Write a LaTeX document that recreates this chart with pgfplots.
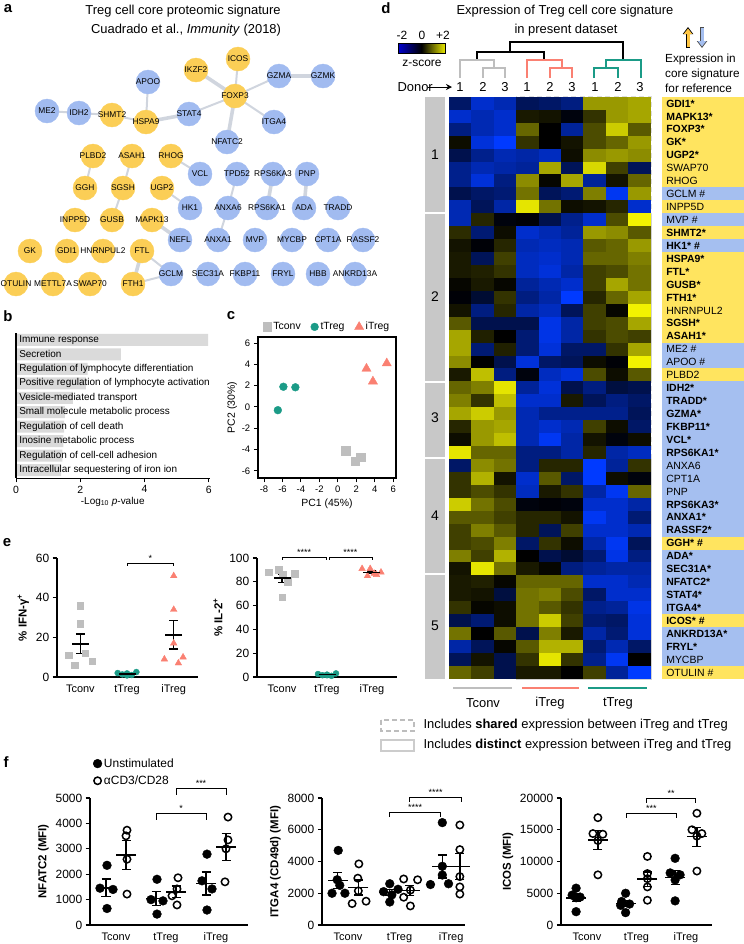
\documentclass[border=0pt]{standalone}
\usepackage{pgfplots}
\pgfplotsset{compat=1.18}
\usepackage{pgfplotstable}
\usepackage{fontspec}
\setmainfont{Liberation Sans}
\setsansfont{Liberation Sans}
\usetikzlibrary{arrows.meta}

\newcommand\fs[1]{\fontsize{#1}{#1}\selectfont}

\definecolor{nodeY}{RGB}{251,206,86}
\definecolor{nodeB}{RGB}{161,187,240}
\definecolor{labY}{RGB}{255,228,95}
\definecolor{labB}{RGB}{165,191,240}
\definecolor{edgeC}{RGB}{208,213,222}
\definecolor{tconvC}{RGB}{190,190,190}
\definecolor{ttregC}{RGB}{27,155,135}
\definecolor{itregC}{RGB}{250,128,114}
\definecolor{barC}{RGB}{218,218,218}
\definecolor{clusC}{RGB}{200,200,200}
\definecolor{dashC}{RGB}{222,222,222}

\pgfdeclareplotmark{cell}{\pgfpathrectangle{\pgfpoint{-11.4bp}{-6.6bp}}{\pgfpoint{22.8bp}{13.2bp}}\pgfusepathqfill}
\pgfdeclareplotmark{lbl}{\pgfpathrectangle{\pgfpoint{-41bp}{-6.6bp}}{\pgfpoint{82bp}{13.2bp}}\pgfusepathqfill}

\pgfplotsset{
  every axis/.append style={/pgf/number format/assume math mode=true, /pgf/number format/1000 sep={}},
  dotaxis/.style={scale only axis, axis x line*=bottom, axis y line*=left,
    axis line style={line width=1.2bp}, tick style={line width=1.2bp, black},
    tick align=outside, major x tick style={draw=none}, xtick={1,2,3},
    xticklabels={Tconv,tTreg,iTreg}, clip=false, scaled y ticks=false,
    yticklabel style={font=\fs{12}}, xticklabel style={font=\fs{11}},
    ylabel style={font=\bfseries\fs{11.5}}},
  meanbar/.style={only marks, black, mark=-, mark size=#1, mark options={line width=1.5bp},
    error bars/y dir=both, error bars/y explicit,
    error bars/error bar style={line width=1.4bp, black},
    error bars/error mark options={rotate=90, mark size=4.5bp, line width=1.4bp, black}},
  brk/.style={black, line width=0.9bp, no markers},
  filled/.style={only marks, mark=*, black, mark size=4.4bp},
  open/.style={only marks, mark=o, black, mark size=3.7bp, mark options={line width=1.5bp, fill=white}},
}

% ---------- network nodes of the reference signature (pixel positions; y = up, b = down)
\pgfplotstableread{
name x y c
ME2 47 111 b
IDH2 79 113 b
SHMT2 112 115 y
HSPA9 146 122 y
APOO 148 82 b
STAT4 189 114 b
IKZF2 196 70 y
ICOS 238 59 y
FOXP3 235 96 y
NFATC2 227 142 b
GZMA 279 76 b
GZMK 323 76 b
ITGA4 274 122 b
PLBD2 93 156 y
ASAH1 132 156 y
RHOG 171 156 y
VCL 200 174 b
TPD52 237 174 b
RPS6KA3 273 174 b
PNP 307 174 b
GGH 85 188 y
SGSH 123 188 y
UGP2 162 188 y
HK1 190 208 b
ANXA6 228 208 b
RPS6KA1 267 208 b
ADA 304 208 b
TRADD 338 208 b
INPP5D 75 220 y
GUSB 112 220 y
MAPK13 152 220 y
NEFL 180 240 b
ANXA1 218 240 b
MVP 255 240 b
MYCBP 292 240 b
CPT1A 328 240 b
RASSF2 363 240 b
GK 30 251 y
GDI1 67 251 y
HNRNPUL2 103 251 y
FTL 142 251 y
GCLM 171 274 b
SEC31A 208 274 b
FKBP11 245 274 b
FRYL 283 274 b
HBB 318 274 b
ANKRD13A 355 274 b
OTULIN 16 284 y
METTL7A 53 284 y
SWAP70 90 284 y
FTH1 133 284 y
}\net

% ---------- heatmap z-scores (rows top to bottom; Tconv 1-3, iTreg 1-3, tTreg 1-3)
\pgfplotstableread{
r c1 c2 c3 c4 c5 c6 c7 c8 c9
1 -0.8 -1.6 -1.4 -0.7 -0.8 -1.0 1.2 1.2 1.3
2 -1.6 -1.4 -1.6 0.2 0.15 -0.1 0.4 1.2 1.3
3 -1.0 -1.4 -1.6 0.8 0.0 -1.2 0.6 1.6 0.7
4 0.1 -1.7 -2.0 0.4 0.0 0.15 0.6 0.8 1.2
5 -0.6 -1.1 -1.4 -1.3 -1.5 0.1 1.1 1.2 1.1
6 -1.1 -1.4 -1.3 -1.2 1.3 -0.7 1.7 0.5 -0.7
7 -1.1 -1.7 -1.0 1.1 0.05 1.3 -1.2 0.15 0.8
8 -0.6 -0.8 -0.9 0.9 -0.7 -0.9 1.0 -1.9 1.2
9 -1.4 -0.7 -1.3 1.8 0.9 0.1 0.15 0.3 -1.6
10 -1.4 0.3 -0.1 -0.05 -0.6 -1.1 -1.6 0.6 1.9
11 0.35 -0.9 0.1 -1.6 -1.4 -1.2 1.2 1.1 0.7
12 0.15 -0.05 0.3 -1.4 -1.5 -1.4 0.7 0.8 1.2
13 0.2 -0.7 0.5 -1.5 -1.6 -1.4 0.8 0.8 1.0
14 0.2 0.25 0.4 -1.5 -1.7 -1.3 0.5 0.6 0.9
15 0.05 0.2 0.05 -1.2 -1.4 -1.6 0.5 1.3 0.9
16 -0.05 -0.4 0.4 -1.0 -1.3 -2.0 0.3 0.8 1.3
17 0.15 -1.0 0.3 -1.3 -1.5 -0.7 0.5 0.05 1.9
18 0.7 -0.6 -0.6 -0.6 -1.8 -1.3 0.5 0.6 1.3
19 1.3 0.25 0.0 -0.9 -1.8 -1.3 0.4 0.6 0.5
20 1.3 -0.9 0.25 -0.9 -1.7 -0.8 -0.8 0.4 1.3
21 1.1 0.0 -0.6 -1.7 -0.8 -0.7 0.1 -0.05 1.9
22 0.2 1.5 -1.0 -0.1 -1.5 -1.7 0.6 0.1 0.7
23 0.8 1.0 1.8 -1.2 -1.7 -0.6 -1.0 -0.5 -0.6
24 1.0 0.4 1.5 -1.6 -1.6 0.2 -0.7 -1.0 -0.8
25 1.3 1.6 1.2 -1.4 -1.1 -1.1 -1.1 -1.1 -0.7
26 0.3 1.2 1.3 -1.4 -1.6 -1.4 0.5 0.1 -0.8
27 0.1 1.2 1.5 -1.4 -1.9 -1.3 0.15 -0.1 0.1
28 1.8 0.8 0.8 -1.0 -1.0 -1.3 0.3 -1.3 -1.5
29 -0.8 1.1 0.9 -1.0 0.3 0.3 -2.0 -1.2 0.4
30 0.4 1.4 0.15 -1.6 0.7 -0.8 -2.0 0.1 -0.1
31 0.4 0.6 0.4 -1.5 0.2 0.4 -1.3 -1.9 0.8
32 1.6 0.9 0.6 -0.1 -0.05 -0.1 -1.6 -1.6 -1.3
33 0.7 0.7 0.5 0.3 0.3 0.15 -1.9 -1.6 -0.9
34 0.5 1.0 0.7 0.3 -0.7 0.5 -1.6 -1.6 -1.4
35 0.5 0.6 1.0 -0.8 0.4 0.1 -1.3 -1.9 -0.7
36 1.0 0.5 1.4 0.0 -0.6 -0.4 -0.9 -1.8 -1.0
37 0.15 1.8 0.9 0.2 0.05 -1.0 -1.2 -1.3 -1.3
38 0.2 0.25 0.05 0.8 0.8 0.8 -1.6 -1.6 -1.4
39 0.2 0.15 -0.5 0.9 1.0 0.6 -0.8 -1.6 -1.6
40 0.4 0.05 0.1 0.9 0.7 0.4 -1.1 -1.2 -1.8
41 -0.6 -0.9 0.1 0.9 1.6 0.5 -0.9 -0.8 -1.7
42 0.9 0.0 0.7 -0.6 1.0 0.2 -1.3 -0.9 -1.7
43 -1.3 -0.7 0.05 0.7 1.4 1.4 -0.9 -1.4 -0.8
44 -0.7 0.15 -0.6 0.4 1.8 0.4 -1.1 -1.9 0.0
45 0.8 0.5 -0.6 0.2 0.2 0.0 0.5 -1.2 -2.0
}\heat

% ---------- reference signature labels (y = up, b = down)
\pgfplotstableread[col sep=comma]{
r,s,g
1,y,\textbf{GDI1*}
2,y,\textbf{MAPK13*}
3,y,\textbf{FOXP3*}
4,y,\textbf{GK*}
5,y,\textbf{UGP2*}
6,y,SWAP70
7,y,RHOG
8,b,GCLM \#
9,y,INPP5D
10,b,MVP \#
11,y,\textbf{SHMT2*}
12,b,\textbf{HK1* \#}
13,y,\textbf{HSPA9*}
14,y,\textbf{FTL*}
15,y,\textbf{GUSB*}
16,y,\textbf{FTH1*}
17,y,HNRNPUL2
18,y,\textbf{SGSH*}
19,y,\textbf{ASAH1*}
20,b,ME2 \#
21,b,APOO \#
22,y,PLBD2
23,b,\textbf{IDH2*}
24,b,\textbf{TRADD*}
25,b,\textbf{GZMA*}
26,b,\textbf{FKBP11*}
27,b,\textbf{VCL*}
28,b,\textbf{RPS6KA1*}
29,b,ANXA6
30,b,CPT1A
31,b,PNP
32,b,\textbf{RPS6KA3*}
33,b,\textbf{ANXA1*}
34,b,\textbf{RASSF2*}
35,y,\textbf{GGH* \#}
36,b,\textbf{ADA*}
37,b,\textbf{SEC31A*}
38,b,\textbf{NFATC2*}
39,b,\textbf{STAT4*}
40,b,\textbf{ITGA4*}
41,y,\textbf{ICOS* \#}
42,b,\textbf{ANKRD13A*}
43,b,\textbf{FRYL*}
44,b,MYCBP
45,y,OTULIN \#
}\labs

\begin{document}
\begin{tikzpicture}
\path[use as bounding box] (0,0) rectangle (744bp,-944bp);

% ================= canvas in pixel coordinates: network, dendrogram, annotations
\begin{axis}[at={(0bp,0bp)}, anchor=north west, scale only axis, width=744bp, height=944bp,
  xmin=0, xmax=744, ymin=0, ymax=944, y dir=reverse, hide axis, clip=false]
% network edges
\addplot[edgeC, line width=2bp, no markers, empty line=jump] table[x=x, y=y] {
x y
47 111
79 113

79 113
112 115

112 115
146 122

146 122
148 82

189 114
235 96

238 59
235 96

235 96
279 76

235 96
274 122

93 156
85 188

132 156
123 188

123 188
112 220

171 156
200 174

162 188
190 208

237 174
228 208

228 208
218 240

142 251
171 274

133 284
171 274
};
\addplot[edgeC, line width=3.6bp, no markers, empty line=jump] table[x=x, y=y] {
x y
146 122
189 114

196 70
235 96

235 96
227 142

279 76
323 76

273 174
267 208

307 174
304 208

152 220
180 240

142 251
133 284
};
% network nodes and their names
\addplot[scatter, only marks, point meta=explicit symbolic,
  scatter/classes={y={mark=*, nodeY}, b={mark=*, nodeB}}, mark size=12bp]
  table[x=x, y=y, meta=c] {\net};
\addplot[only marks, mark=*, mark size=0.01pt, nodeB, point meta=explicit symbolic, nodes near coords,
  every node near coord/.append style={anchor=center, text=black, font=\fs{8.4}, inner sep=0pt}]
  table[x=x, y=y, meta=name] {\net};
% dendrogram
\addplot[black, line width=1.6bp, no markers, empty line=jump] table[x=x, y=y] {
x y
510 52
510 42
623 42
623 60

477 60
477 52
544 52
544 60
};
\addplot[tconvC, line width=1.6bp, no markers, empty line=jump] table[x=x, y=y] {
x y
460 78
460 60
494 60
494 68

483 78
483 68
505 68
505 78
};
\addplot[itregC, line width=1.6bp, no markers, empty line=jump] table[x=x, y=y] {
x y
527 78
527 60
562 60
562 68

550 78
550 68
572 68
572 78
};
\addplot[ttregC, line width=1.6bp, no markers, empty line=jump] table[x=x, y=y] {
x y
594 78
594 68
618 68
618 78

606 68
606 60
641 60
641 78
};
% group underlines
\addplot[tconvC, line width=1.5bp, no markers] coordinates {(453,688) (512,688)};
\addplot[itregC, line width=1.5bp, no markers] coordinates {(522,688) (579,688)};
\addplot[ttregC, line width=1.5bp, no markers] coordinates {(588,688) (647,688)};

% panel letters and titles
\node[font=\bfseries\fs{15}] at (axis cs:8,9) {a};
\node[font=\bfseries\fs{15}] at (axis cs:8,316) {b};
\node[font=\bfseries\fs{15}] at (axis cs:231,316) {c};
\node[font=\bfseries\fs{15}] at (axis cs:386,8) {d};
\node[font=\bfseries\fs{15}] at (axis cs:7,543) {e};
\node[font=\bfseries\fs{15}] at (axis cs:6,762) {f};
\node[font=\fs{13}] at (axis cs:183,11) {Treg cell core proteomic signature};
\node[font=\fs{13}] at (axis cs:186,30) {Cuadrado et al., \textit{Immunity} (2018)};
\node[font=\fs{13}] at (axis cs:565,11) {Expression of Treg cell core signature};
\node[font=\fs{13}] at (axis cs:566,30) {in present dataset};

% colour key
\shade[left color={rgb,255:red,0;green,0;blue,210}, right color=black] (axis cs:398,43) rectangle (axis cs:421.5,53);
\shade[left color=black, right color={rgb,255:red,230;green,230;blue,0}] (axis cs:421.5,43) rectangle (axis cs:445,53);
\draw[black, line width=0.8bp] (axis cs:398,43) rectangle (axis cs:445,53);
\node[font=\fs{12}] at (axis cs:402,35) {-2};
\node[font=\fs{12}] at (axis cs:422,35) {0};
\node[font=\fs{12}] at (axis cs:443,35) {+2};
\node[font=\fs{12}] at (axis cs:422,63) {z-score};

% donor row
\node[font=\fs{13}, anchor=west] at (axis cs:394,87) {Donor};
\draw[-{Stealth[length=6bp,width=6bp]}, line width=1bp] (axis cs:428,87) -- (axis cs:452,87);
\node[font=\fs{13}] at (axis cs:460,87) {1};
\node[font=\fs{13}] at (axis cs:483,87) {2};
\node[font=\fs{13}] at (axis cs:505,87) {3};
\node[font=\fs{13}] at (axis cs:527,87) {1};
\node[font=\fs{13}] at (axis cs:550,87) {2};
\node[font=\fs{13}] at (axis cs:572,87) {3};
\node[font=\fs{13}] at (axis cs:595,87) {1};
\node[font=\fs{13}] at (axis cs:618,87) {2};
\node[font=\fs{13}] at (axis cs:640,87) {3};

% reference key
\draw[black, line width=4.6bp, -{Triangle[length=7bp,width=10bp]}] (axis cs:688,48) -- (axis cs:688,27);
\draw[labY!70!orange, line width=3bp, -{Triangle[length=5.5bp,width=8bp]}] (axis cs:688,47) -- (axis cs:688,28.5);
\draw[black!70, line width=4.6bp, -{Triangle[length=7bp,width=10bp]}] (axis cs:702,27) -- (axis cs:702,48);
\draw[labB, line width=3bp, -{Triangle[length=5.5bp,width=8bp]}] (axis cs:702,28) -- (axis cs:702,46.5);
\node[font=\fs{11.8}, anchor=west, inner sep=0pt] at (axis cs:665,59) {Expression in};
\node[font=\fs{11.8}, anchor=west, inner sep=0pt] at (axis cs:665,74) {core signature};
\node[font=\fs{11.8}, anchor=west, inner sep=0pt] at (axis cs:665,88) {for reference};

% cluster bar
\fill[clusC] (axis cs:425,97) rectangle (axis cs:445,212.4);
\fill[clusC] (axis cs:425,214.4) rectangle (axis cs:445,380.5);
\fill[clusC] (axis cs:425,382.5) rectangle (axis cs:445,457);
\fill[clusC] (axis cs:425,459) rectangle (axis cs:445,573);
\fill[clusC] (axis cs:425,575) rectangle (axis cs:445,679);
\node[font=\fs{14}] at (axis cs:435,155) {1};
\node[font=\fs{14}] at (axis cs:435,297) {2};
\node[font=\fs{14}] at (axis cs:435,418) {3};
\node[font=\fs{14}] at (axis cs:435,516) {4};
\node[font=\fs{14}] at (axis cs:435,626) {5};

% group names and box key
\node[font=\fs{13}] at (axis cs:483,703) {Tconv};
\node[font=\fs{13}] at (axis cs:550,703) {iTreg};
\node[font=\fs{13}] at (axis cs:618,703) {tTreg};
\draw[dashC!85!black, line width=1.6bp, dash pattern=on 5bp off 3bp] (axis cs:381,720) rectangle (axis cs:414,731);
\draw[black!20, line width=1.6bp] (axis cs:381,740) rectangle (axis cs:414,751);
\node[font=\fs{13}, anchor=west] at (axis cs:420,725.5) {Includes \textbf{shared} expression between iTreg and tTreg};
\node[font=\fs{13}, anchor=west] at (axis cs:420,745.5) {Includes \textbf{distinct} expression between iTreg and tTreg};
\end{axis}

% ================= d: heatmap
\begin{axis}[at={(449bp,-97bp)}, anchor=north west, scale only axis, width=202bp, height=582bp,
  xmin=0.5, xmax=9.5, ymin=0.5, ymax=45.5, y dir=reverse, hide axis, clip=false,
  colormap={bky}{rgb255=(0,58,255) rgb255=(0,0,0) rgb255=(255,255,0)},
  point meta min=-2, point meta max=2]
\pgfplotsinvokeforeach{1,...,9}{
\addplot[scatter, only marks, mark=cell, point meta=explicit,
  scatter/use mapped color={draw=mapped color, fill=mapped color}]
  table[x expr=#1, y=r, meta=c#1] {\heat};
}
\draw[black!18, line width=1.5bp] (axis cs:3.5,9.5) rectangle (axis cs:9.5,22.5);
\draw[black!18, line width=1.5bp] (axis cs:3.5,28.5) rectangle (axis cs:9.5,45.5);
\draw[dashC, line width=1.7bp, dash pattern=on 5bp off 3.5bp] (axis cs:3.5,0.5) rectangle (axis cs:9.5,9.5);
\draw[dashC, line width=1.7bp, dash pattern=on 5bp off 3.5bp] (axis cs:3.5,22.5) rectangle (axis cs:9.5,28.5);
\end{axis}

% ================= d: signature labels
\begin{axis}[at={(662bp,-97bp)}, anchor=north west, scale only axis, width=82bp, height=582bp,
  xmin=0, xmax=1, ymin=0.5, ymax=45.5, y dir=reverse, hide axis, clip=false]
\addplot[scatter, only marks, point meta=explicit symbolic,
  scatter/classes={y={mark=lbl, labY}, b={mark=lbl, labB}}]
  table[x expr=0.5, y=r, meta=s] {\labs};
\addplot[only marks, mark=*, mark size=0.01pt, white, point meta=explicit symbolic, nodes near coords,
  every node near coord/.append style={anchor=west, text=black, font=\fs{10.5}, inner sep=0pt}]
  table[x expr=0.05, y=r, meta=g] {\labs};
\end{axis}

% ================= b: GO terms
\begin{axis}[at={(16bp,-478bp)}, anchor=south west, scale only axis, width=193.5bp, height=145bp,
  xbar, bar width=12bp, xmin=0, xmax=6.02, ymin=0.52, ymax=10.55, y dir=reverse,
  axis x line*=bottom, axis y line*=left,
  x axis line style={line width=0.8bp}, y axis line style={line width=1.8bp},
  xtick={0,2,4,6}, tick align=outside, tick style={black, line width=0.8bp},
  ytick={1,...,10}, major y tick style={draw=none},
  yticklabels={Immune response, Secretion, Regulation of lymphocyte differentiation,
    Positive regulation of lymphocyte activation, Vesicle-mediated transport,
    Small molecule metabolic process, Regulation of cell death, Inosine metabolic process,
    Regulation of cell-cell adhesion, Intracellular sequestering of iron ion},
  yticklabel style={anchor=west, xshift=4bp, font=\fs{10}},
  xticklabel style={font=\fs{10.5}},
  xlabel={-Log\textsubscript{10} \textit{p}-value}, xlabel style={font=\fs{10}, yshift=3bp},
  axis on top]
\addplot[fill=barC, draw=none] table[x=v, y=i] {
i v
1 5.98
2 3.26
3 2.23
4 2.17
5 1.77
6 1.52
7 1.50
8 1.47
9 1.44
10 1.40
};
\end{axis}

% ================= c: PCA
\begin{axis}[at={(258bp,-478bp)}, anchor=south west, scale only axis, width=138bp, height=141bp,
  xmin=-8.65, xmax=6.3, ymin=-6.67, ymax=6.57, xtick={-8,-6,...,6}, ytick={-6,-4,...,6},
  tick align=outside, xtick pos=lower, ytick pos=left, tick style={black, line width=1bp},
  axis line style={line width=1.2bp}, tick label style={font=\fs{9.5}},
  xlabel={PC1 (45\%)}, ylabel={PC2 (30\%)}, label style={font=\fs{10.5}},
  ylabel style={yshift=-2bp},
  legend columns=3, legend style={at={(0.5,1.01)}, anchor=south, draw=none, fill=none,
    font=\fs{10.5}, /tikz/every even column/.append style={column sep=8bp}}]
\addplot[only marks, mark=square*, tconvC, mark size=4.3bp] coordinates {(0.86,-4.1) (1.9,-5.1) (2.5,-4.7)};
\addlegendentry{Tconv}
\addplot[only marks, mark=*, ttregC, mark size=3.9bp] coordinates {(-5.9,1.9) (-4.6,1.85) (-6.5,-0.3)};
\addlegendentry{tTreg}
\addplot[only marks, mark=triangle*, itregC, mark size=5.3bp] coordinates {(3.1,3.6) (3.8,2.4) (5.3,4.1)};
\addlegendentry{iTreg}
\end{axis}

% ================= e: IFN-gamma
\begin{axis}[dotaxis, at={(57bp,-677bp)}, anchor=south west, width=141bp, height=119bp,
  xmin=0.5, xmax=3.52, ymin=0, ymax=60, ytick={0,20,40,60},
  ylabel={\% IFN-γ\textsuperscript{+}}]
\addplot[only marks, mark=square*, tconvC, mark size=3.3bp] coordinates {(1.0,36) (1.0,27) (0.75,11) (1.1,12) (1.25,8) (0.88,6)};
\addplot[only marks, mark=*, ttregC, mark size=3bp] coordinates {(1.8,2.0) (1.9,1.3) (2.0,1.8) (2.1,1.0) (2.2,2.5) (2.0,0.8)};
\addplot[only marks, mark=triangle*, itregC, mark size=3.8bp] coordinates {(3.0,51) (3.0,34) (3.0,17) (2.8,9) (3.2,10) (3.1,7)};
\addplot[meanbar=8.5bp] table[x=x, y=m, y error=e] {
x m e
1 16.7 4.9
2 1.57 0.27
3 21.3 7.2
};
\addplot[brk] coordinates {(2,56) (2,57.5) (3,57.5) (3,56)};
\node[font=\fs{9}, above, inner sep=1bp] at (axis cs:2.5,57.5) {*};
\end{axis}

% ================= e: IL-2
\begin{axis}[dotaxis, at={(257bp,-677bp)}, anchor=south west, width=140bp, height=119bp,
  xmin=0.444, xmax=3.556, ymin=0, ymax=100, ytick={0,20,...,100},
  ylabel={\% IL-2\textsuperscript{+}}]
\addplot[only marks, mark=square*, tconvC, mark size=3.3bp] coordinates {(0.7,88) (0.92,90) (1.02,86) (1.28,87) (1.0,67) (1.12,80)};
\addplot[only marks, mark=*, ttregC, mark size=3bp] coordinates {(1.8,2.5) (1.9,1.5) (2.0,2.0) (2.1,1.0) (2.2,3.0) (2.0,1.5)};
\addplot[only marks, mark=triangle*, itregC, mark size=3.8bp] coordinates {(2.78,91) (2.96,91) (3.2,88) (3.1,86) (2.9,85) (3.05,87)};
\addplot[meanbar=8.5bp] table[x=x, y=m, y error=e] {
x m e
1 83 3.5
2 1.92 0.3
3 88 0.97
};
\addplot[brk] coordinates {(1,98.5) (1,100.8) (1.98,100.8) (1.98,98.5)};
\addplot[brk] coordinates {(2.05,98.5) (2.05,100.8) (3,100.8) (3,98.5)};
\node[font=\fs{9}, above, inner sep=1bp] at (axis cs:1.49,100.8) {****};
\node[font=\fs{9}, above, inner sep=1bp] at (axis cs:2.52,100.8) {****};
\end{axis}

% ================= f: NFATC2
\begin{axis}[dotaxis, at={(90bp,-925bp)}, anchor=south west, width=158bp, height=127bp,
  xmin=0.48, xmax=3.64, ymin=0, ymax=5000, ytick={0,1000,...,5000},
  ylabel={NFATC2 (MFI)},
  legend style={at={(0,1)}, anchor=south west, yshift=8bp, draw=none, fill=none,
    font=\fs{12}, row sep=3bp, cells={anchor=west}}]
\addplot[filled] coordinates {(0.82,2350) (0.68,1450) (0.94,1400) (0.82,650)
  (1.82,1800) (1.7,1000) (1.94,950) (1.82,430) (2.82,2790) (2.72,1740) (2.92,1420) (2.82,590)};
\addlegendentry{Unstimulated}
\addplot[open] coordinates {(1.22,3733) (1.2,3510) (1.22,2590) (1.22,1218)
  (2.24,1860) (2.22,1420) (2.12,1150) (2.22,790) (3.24,4250) (3.24,3350) (3.2,3000) (3.18,1700)};
\addlegendentry{αCD3/CD28}
\addplot[forget plot, meanbar=10bp] table[x=x, y=m, y error=e] {
x m e
0.8 1462 348
1.2 2763 571
1.8 1045 283
2.2 1305 225
2.8 1635 455
3.2 3075 528
};
\addplot[forget plot, brk] coordinates {(1.8,4150) (1.8,4410) (2.8,4410) (2.8,4150)};
\addplot[forget plot, brk] coordinates {(2.2,5130) (2.2,5390) (3.2,5390) (3.2,5130)};
\node[font=\fs{9}, above, inner sep=1bp] at (axis cs:2.3,4410) {*};
\node[font=\fs{9}, above, inner sep=1bp] at (axis cs:2.7,5390) {***};
\end{axis}

% ================= f: ITGA4
\begin{axis}[dotaxis, at={(322bp,-925bp)}, anchor=south west, width=143bp, height=127bp,
  xmin=0.495, xmax=3.27, ymin=0, ymax=8000, ytick={0,2000,...,8000},
  ylabel={ITGA4 (CD49d) (MFI)}]
\addplot[filled] coordinates {(0.81,4700) (0.79,2850) (0.84,2500) (0.69,2000) (0.94,2000)
  (1.81,2600) (1.97,2250) (1.69,2100) (1.85,1900) (1.81,1450)
  (2.83,6450) (2.83,3700) (2.83,3150) (2.6,2550) (2.95,2600)};
\addplot[open] coordinates {(1.21,3850) (1.19,2950) (1.2,2150) (1.08,1350) (1.35,1500)
  (2.08,2900) (2.35,2850) (2.21,2200) (2.08,1750) (2.21,1200)
  (3.17,6300) (3.17,4750) (3.17,3050) (3.17,2400) (3.17,1950)};
\addplot[meanbar=10bp] table[x=x, y=m, y error=e] {
x m e
0.8 2810 499
1.2 2360 468
1.8 2060 191
2.2 2180 325
2.83 3690 721
3.17 3690 807
};
\addplot[brk] coordinates {(1.8,6800) (1.8,7118) (2.8,7118) (2.8,6800)};
\addplot[brk] coordinates {(2.2,7750) (2.2,8063) (3.2,8063) (3.2,7750)};
\node[font=\fs{9}, above, inner sep=1bp] at (axis cs:2.3,7118) {****};
\node[font=\fs{9}, above, inner sep=1bp] at (axis cs:2.7,8063) {****};
\end{axis}

% ================= f: ICOS
\begin{axis}[dotaxis, at={(561bp,-925bp)}, anchor=south west, width=151bp, height=127bp,
  xmin=0.475, xmax=3.525, ymin=0, ymax=20000, ytick={0,5000,...,20000},
  ylabel={ICOS (MFI)}]
\addplot[filled] coordinates {(0.78,5800) (0.7,4700) (0.86,4400) (0.78,4300) (0.78,2100)
  (1.78,5000) (1.7,3700) (1.86,3300) (1.68,3100) (1.78,1950)
  (2.78,10500) (2.68,8200) (2.88,7900) (2.78,7100) (2.78,3800)};
\addplot[open] coordinates {(1.22,16900) (1.12,14400) (1.32,14300) (1.22,13300) (1.22,7900)
  (2.22,10800) (2.22,8100) (2.22,7300) (2.22,6000) (2.22,3900)
  (3.22,17600) (3.12,15000) (3.32,14400) (3.22,14000) (3.22,8500)};
\addplot[meanbar=10bp] table[x=x, y=m, y error=e] {
x m e
0.78 4260 602
1.22 13360 1488
1.78 3410 493
2.22 7220 1143
2.78 7500 1084
3.22 13900 1489
};
\addplot[brk] coordinates {(1.8,16900) (1.8,17640) (2.8,17640) (2.8,16900)};
\addplot[brk] coordinates {(2.2,19250) (2.2,20000) (3.2,20000) (3.2,19250)};
\node[font=\fs{9}, above, inner sep=1bp] at (axis cs:2.3,17640) {***};
\node[font=\fs{9}, above, inner sep=1bp] at (axis cs:2.7,20000) {**};
\end{axis}
\end{tikzpicture}
\end{document}
